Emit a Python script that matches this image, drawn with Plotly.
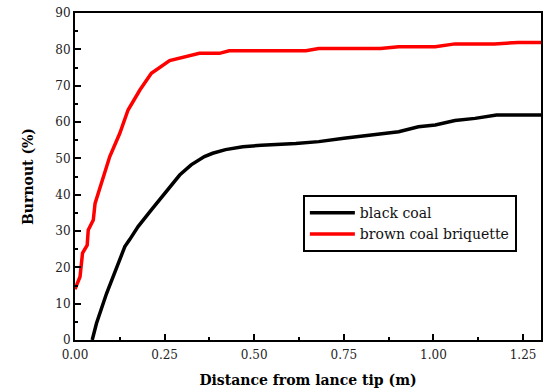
import plotly.graph_objects as go

black_x = [0.048, 0.06, 0.088, 0.116, 0.139, 0.153, 0.176, 0.213, 0.255, 0.292, 0.324, 0.361, 0.384,
           0.42, 0.468, 0.52, 0.616, 0.68, 0.75, 0.85, 0.903, 0.958, 1.005, 1.06, 1.116, 1.176, 1.24, 1.3]
black_y = [0.0, 4.6, 12.8, 19.7, 25.7, 27.7, 31.2, 35.8, 40.8, 45.4, 48.2, 50.5, 51.4,
           52.4, 53.2, 53.6, 54.1, 54.6, 55.5, 56.6, 57.3, 58.7, 59.2, 60.4, 61.0, 61.9, 61.9, 61.9]

red_x = [0.0, 0.014, 0.021, 0.034, 0.037, 0.051, 0.056, 0.074, 0.097, 0.125, 0.148, 0.181, 0.213,
         0.264, 0.315, 0.347, 0.403, 0.43, 0.644, 0.68, 0.852, 0.903, 1.005, 1.06, 1.17, 1.236, 1.3]
red_y = [14.0, 17.4, 23.9, 26.1, 30.3, 33.0, 37.6, 43.1, 50.5, 56.9, 63.3, 68.8, 73.4,
         76.9, 78.2, 78.9, 78.9, 79.6, 79.6, 80.2, 80.2, 80.7, 80.7, 81.5, 81.5, 81.9, 81.9]

x_ticks = [0.0, 0.25, 0.5, 0.75, 1.0, 1.25]
y_ticks = [0, 10, 20, 30, 40, 50, 60, 70, 80, 90]

font = "DejaVu Serif"

fig = go.Figure()
fig.add_trace(go.Scatter(x=black_x, y=black_y, mode="lines", name="black coal",
                         line=dict(color="black", width=3.5)))
fig.add_trace(go.Scatter(x=red_x, y=red_y, mode="lines", name="brown coal briquette",
                         line=dict(color="#ff0000", width=3.5)))

fig.update_layout(
    width=544, height=392,
    margin=dict(l=75, r=1, t=13, b=52),
    paper_bgcolor="white", plot_bgcolor="white",
    font=dict(family=font, size=12, color="#222"),
    legend=dict(x=0.489, y=0.443, xanchor="left", yanchor="top",
                bordercolor="black", borderwidth=2, bgcolor="white",
                font=dict(family=font, size=14, color="#111"),
                tracegroupgap=0, itemwidth=45),
    showlegend=True,
)
fig.update_xaxes(
    range=[0, 1.3], tickvals=x_ticks, ticktext=[f"{v:.2f}" for v in x_ticks],
    ticklabelstandoff=3,
    showgrid=False, zeroline=False, showline=True, linecolor="black", linewidth=2,
    mirror=True, ticks="inside", ticklen=6, tickwidth=2, tickcolor="black",
    minor=dict(dtick=0.125, tick0=0, ticks="inside", ticklen=3, tickwidth=2, tickcolor="black"),
    title=dict(text="<b>Distance from lance tip (m)</b>", font=dict(family=font, size=14, color="black"),
               standoff=14),
)
fig.update_yaxes(
    range=[0, 90], tickvals=y_ticks,
    showgrid=False, zeroline=False, showline=True, linecolor="black", linewidth=2,
    mirror=True, ticks="inside", ticklen=6, tickwidth=2, tickcolor="black",
    minor=dict(dtick=5, tick0=0, ticks="inside", ticklen=3, tickwidth=2, tickcolor="black"),
    title=dict(text="<b>Burnout (%)</b>", font=dict(family=font, size=14, color="black"),
               standoff=18),
)

fig.write_html("out.html")
